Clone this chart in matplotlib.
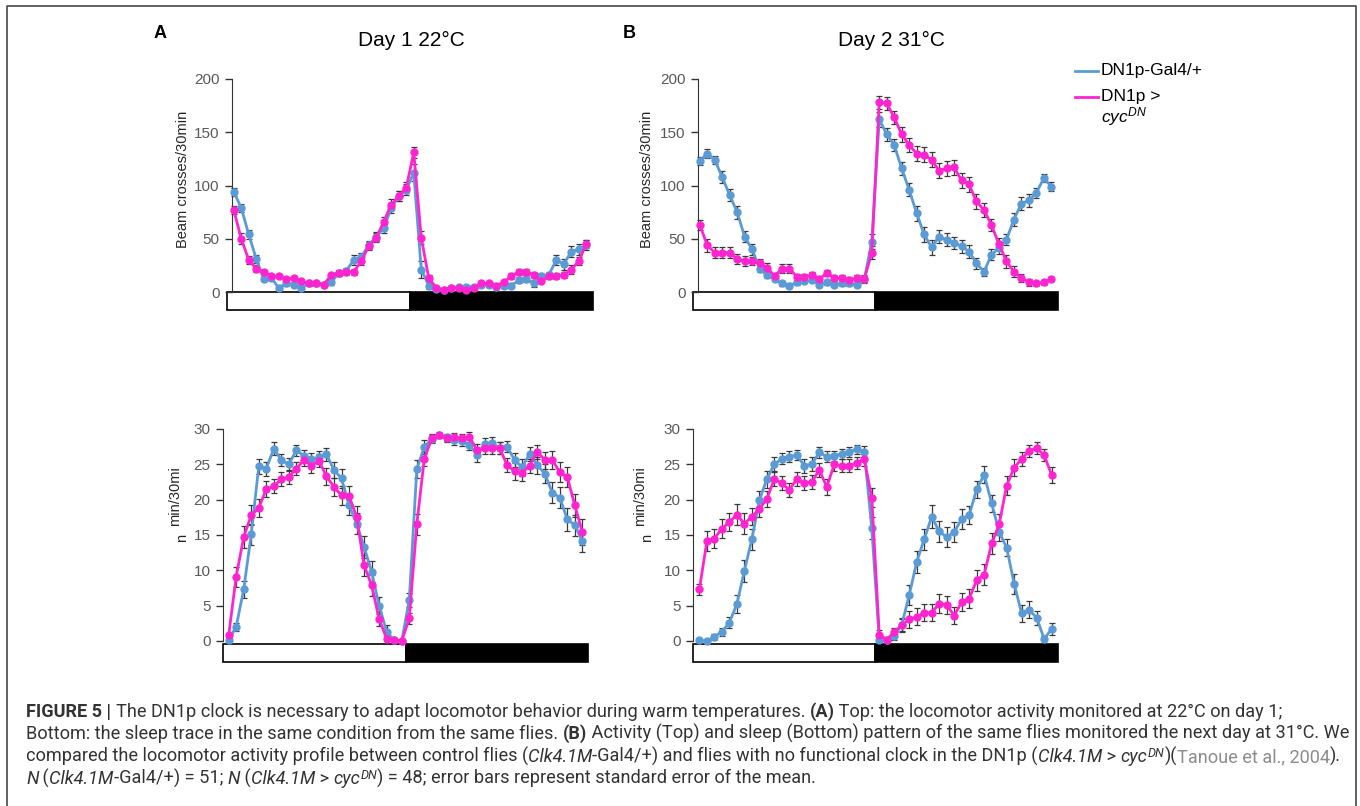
import numpy as np
import matplotlib
matplotlib.use("Agg")
import matplotlib.pyplot as plt
from matplotlib.patches import Rectangle
from matplotlib.lines import Line2D
from matplotlib.font_manager import FontProperties

plt.rcParams['font.family'] = ['Liberation Sans', 'DejaVu Sans']
plt.rcParams['mathtext.fontset'] = 'custom'
plt.rcParams['mathtext.rm'] = 'Liberation Sans'
plt.rcParams['mathtext.it'] = 'Liberation Sans:italic'
plt.rcParams['mathtext.bf'] = 'Liberation Sans:bold'

# 30 min bins over 24 h (12 h light, 12 h dark)
bins = np.arange(48)

# Day 1, 22C - activity (beam crosses / 30 min)
day1_act_ctrl = [94, 79, 54, 31, 12, 13, 4, 8, 7, 4, 8, 8, 7, 9, 18, 20, 30, 33, 44, 52,
                 60, 79, 90, 96, 112, 21, 6, 3, 2, 4, 5, 5, 5, 7, 7, 5, 6, 6, 11, 12,
                 8, 15, 16, 30, 26, 38, 40, 44]
day1_act_ctrl_err = [4, 4, 4, 4, 2, 2, 1, 2, 2, 1, 2, 2, 2, 2, 3, 3, 5, 4, 4, 4,
                     5, 5, 5, 5, 8, 8, 3, 2, 1, 1, 1, 2, 2, 2, 2, 2, 2, 2, 3, 3,
                     3, 3, 3, 5, 5, 5, 5, 5]
day1_act_cyc = [77, 50, 30, 22, 19, 15, 15, 12, 13, 10, 8, 8, 7, 16, 18, 19, 19, 29, 43, 51,
                66, 82, 90, 98, 131, 51, 13, 4, 2, 4, 4, 2, 4, 8, 8, 6, 9, 15, 19, 19,
                16, 10, 15, 15, 16, 21, 29, 45]
day1_act_cyc_err = [4, 5, 4, 3, 2, 2, 2, 2, 2, 2, 1, 1, 1, 2, 3, 3, 3, 4, 4, 4,
                    4, 5, 5, 5, 5, 6, 3, 2, 1, 1, 1, 1, 1, 2, 2, 2, 2, 3, 3, 3,
                    3, 2, 3, 3, 3, 4, 4, 4]

# Day 2, 31C - activity
day2_act_ctrl = [123, 130, 124, 108, 91, 75, 52, 40, 22, 16, 12, 8, 6, 9, 10, 11, 7, 9, 7, 8,
                 8, 7, 12, 47, 162, 148, 138, 116, 96, 74, 54, 42, 52, 49, 46, 43, 38, 27, 19, 35,
                 41, 49, 68, 83, 86, 93, 107, 99]
day2_act_ctrl_err = [4, 4, 4, 6, 6, 6, 5, 5, 3, 3, 2, 2, 2, 2, 2, 2, 2, 2, 2, 2,
                     2, 2, 3, 7, 7, 6, 6, 6, 6, 7, 7, 7, 6, 6, 6, 6, 6, 5, 4, 5,
                     5, 5, 6, 6, 6, 5, 4, 4]
day2_act_cyc = [63, 44, 37, 37, 37, 31, 29, 29, 27, 23, 15, 22, 22, 14, 14, 16, 12, 18, 13, 13,
                11, 13, 12, 37, 178, 177, 164, 148, 138, 130, 129, 124, 114, 116, 117, 105, 101, 85, 77, 63,
                45, 29, 19, 13, 9, 8, 9, 12]
day2_act_cyc_err = [5, 6, 5, 5, 5, 5, 5, 4, 4, 4, 3, 4, 4, 3, 3, 3, 3, 3, 3, 3,
                    3, 3, 4, 6, 6, 6, 6, 7, 7, 7, 7, 7, 7, 7, 7, 7, 7, 7, 7, 6,
                    6, 6, 5, 4, 3, 2, 2, 2]

# Day 1, 22C - sleep (min / 30 min)
day1_sleep_ctrl = [0.2, 2.0, 7.3, 15.1, 24.7, 24.4, 27.2, 25.6, 25.0, 27.0, 26.2, 25.7, 26.0, 26.4,
                   24.2, 23.0, 19.2, 16.6, 13.3, 9.8, 5.0, 1.3, 0.1, 0.0,
                   5.8, 24.3, 27.5, 28.6, 29.1, 28.8, 28.4, 28.3, 27.8, 26.3, 27.9, 28.0, 27.3, 27.5,
                   25.6, 24.6, 26.5, 24.9, 23.7, 21.0, 20.3, 17.2, 16.4, 14.1]
day1_sleep_ctrl_err = [0.3, 0.6, 1.2, 1.5, 1.0, 1.0, 0.9, 0.9, 0.9, 0.8, 0.8, 0.9, 0.9, 0.9,
                       1.2, 1.3, 1.4, 1.5, 1.5, 1.5, 1.2, 0.9, 0.3, 0.1, 1.0, 1.3, 1.0, 0.6,
                       0.4, 0.5, 0.6, 0.7, 0.8, 1.0, 0.8, 0.8, 0.9, 0.8, 1.0, 1.2, 1.0, 1.2,
                       1.4, 1.5, 1.5, 1.6, 1.5, 1.5]
day1_sleep_cyc = [0.8, 9.1, 14.7, 17.8, 18.8, 21.5, 21.9, 22.9, 23.2, 24.4, 25.6, 24.8, 25.5,
                  23.3, 21.8, 20.6, 20.5, 17.6, 10.7, 7.9, 3.1, 0.3, 0.1, 0.0,
                  3.2, 16.5, 25.8, 28.7, 29.1, 28.7, 28.8, 28.7, 28.9, 27.0, 27.3, 27.3, 27.3, 24.9,
                  24.0, 23.8, 24.8, 26.8, 25.6, 25.6, 23.9, 23.2, 19.2, 15.4]
day1_sleep_cyc_err = [0.4, 1.4, 1.6, 1.4, 1.3, 1.1, 1.0, 1.0, 1.0, 0.9, 0.9, 1.0, 0.9, 1.2,
                      1.3, 1.3, 1.4, 1.5, 1.5, 1.5, 1.0, 0.5, 0.2, 0.1, 0.8, 1.5, 1.0, 0.6,
                      0.4, 0.5, 0.6, 0.6, 0.7, 0.9, 0.8, 0.8, 0.9, 1.0, 1.2, 1.2, 1.0, 1.0,
                      1.2, 1.3, 1.4, 1.4, 1.6, 1.8]

# Day 2, 31C - sleep
day2_sleep_ctrl = [0.1, 0.0, 0.6, 1.3, 2.6, 5.2, 9.9, 14.4, 19.9, 22.9, 25.0, 25.8, 26.1, 26.3,
                   24.8, 25.0, 26.7, 26.1, 26.2, 26.5, 26.8, 27.1, 26.8, 16.0,
                   0.2, 0.1, 0.7, 2.3, 6.5, 11.2, 14.4, 17.6, 15.5, 14.7, 15.4, 17.3, 17.8, 21.5,
                   23.5, 19.5, 15.4, 13.2, 8.1, 3.9, 4.4, 3.3, 0.3, 1.7]
day2_sleep_ctrl_err = [0.2, 0.1, 0.4, 0.6, 0.8, 1.3, 1.5, 1.5, 1.3, 1.2, 1.0, 0.8, 0.8, 0.7,
                       1.0, 1.0, 0.8, 0.8, 0.7, 0.7, 0.7, 0.6, 0.8, 1.5, 0.3, 0.2, 0.5, 0.9,
                       1.4, 1.6, 1.5, 1.6, 1.5, 1.4, 1.4, 1.4, 1.3, 1.2, 1.2, 1.2, 1.3, 1.2,
                       1.4, 1.2, 1.2, 1.0, 0.4, 0.8]
day2_sleep_cyc = [7.3, 14.1, 14.5, 15.9, 16.8, 17.9, 16.6, 17.6, 18.7, 20.1, 22.9, 22.3, 21.4, 22.9,
                  22.3, 22.5, 24.2, 21.8, 25.0, 24.8, 24.8, 25.2, 25.7, 20.3,
                  0.9, 0.2, 1.3, 2.2, 3.1, 3.4, 4.0, 4.0, 5.3, 5.1, 3.6, 5.5, 6.0, 8.6,
                  9.4, 13.8, 16.5, 22.0, 24.5, 25.8, 26.9, 27.3, 26.3, 23.5]
day2_sleep_cyc_err = [0.8, 1.4, 1.3, 1.3, 1.3, 1.5, 1.5, 1.2, 1.2, 1.1, 1.0, 1.0, 1.0, 1.0,
                      1.0, 1.0, 1.0, 1.1, 0.9, 0.9, 0.9, 0.9, 0.9, 1.4, 0.6, 0.3, 0.6, 0.9,
                      1.2, 1.2, 1.2, 1.2, 1.3, 1.3, 1.2, 1.3, 1.4, 1.5, 1.5, 1.5, 1.5, 1.4,
                      1.2, 1.0, 0.9, 0.9, 0.8, 1.1]

act_ticks = [0, 50, 100, 150, 200]
sleep_ticks = [0, 5, 10, 15, 20, 25, 30]

BLUE = '#5B9BD5'
PINK = '#FF24D0'
ERR = '#3a3a3a'
TICKC = '#595959'

W, H = 1360, 806
fig = plt.figure(figsize=(W / 100, H / 100), dpi=100)


def fx(px):
    return px / W


def fy(py):
    return 1 - py / H


def panel(left, right, top, bottom, xlim, spine_x, yticks, bar_gap,
          ctrl, ctrl_err, cyc, cyc_err):
    ax = fig.add_axes([fx(left), fy(bottom), (right - left) / W, (bottom - top) / H])
    ax.set_xlim(*xlim)
    ax.set_ylim(yticks[0], yticks[-1])
    ax.set_yticks(yticks)
    ax.set_xticks([])
    for s in ['top', 'right', 'bottom']:
        ax.spines[s].set_visible(False)
    ax.spines['left'].set_position(('data', spine_x))
    ax.spines['left'].set_color('#333333')
    ax.tick_params(axis='y', direction='out', length=5, width=1, pad=4,
                   labelsize=11, labelcolor=TICKC, color='#333333')
    ax.patch.set_alpha(0)

    # light/dark bar below the axis
    axh = bottom - top
    mid = 23.5
    y0 = -(bar_gap + 18) / axh
    tr = ax.get_xaxis_transform()
    ax.add_patch(Rectangle((xlim[0], y0), mid - xlim[0], 18 / axh, transform=tr,
                           facecolor='white', edgecolor='black', lw=1.2, clip_on=False))
    ax.add_patch(Rectangle((mid, y0), xlim[1] - mid, 18 / axh, transform=tr,
                           facecolor='black', edgecolor='black', lw=1.2, clip_on=False))

    for y, e, c in [(ctrl, ctrl_err, BLUE), (cyc, cyc_err, PINK)]:
        ax.errorbar(bins, y, yerr=e, fmt='none', ecolor=ERR, elinewidth=0.9,
                    capsize=2.2, capthick=0.9, zorder=2)
        ax.plot(bins, y, '-o', color=c, lw=2.0, ms=5, clip_on=False, zorder=3)
    return ax


panel(227, 593, 79, 292, (-0.9, 47.9), -0.23, act_ticks, 0,
      day1_act_ctrl, day1_act_ctrl_err, day1_act_cyc, day1_act_cyc_err)
panel(693, 1058, 79, 292, (-0.9, 47.9), -0.23, act_ticks, 0,
      day2_act_ctrl, day2_act_ctrl_err, day2_act_cyc, day2_act_cyc_err)
panel(223, 588, 429, 641, (-0.75, 47.75), -0.75, sleep_ticks, 3,
      day1_sleep_ctrl, day1_sleep_ctrl_err, day1_sleep_cyc, day1_sleep_cyc_err)
panel(693, 1058, 429, 641, (-0.85, 47.85), -0.85, sleep_ticks, 3,
      day2_sleep_ctrl, day2_sleep_ctrl_err, day2_sleep_cyc, day2_sleep_cyc_err)

# axis labels, titles, panel letters
lab = dict(rotation=90, ha='center', va='center', fontsize=10.5, color='#262626')
fig.text(fx(183), fy(179), 'Beam crosses/30min', **lab)
fig.text(fx(647), fy(179), 'Beam crosses/30min', **lab)
fig.text(fx(175), fy(496), 'min/30mi', **lab)
fig.text(fx(182), fy(538), 'n', **lab)
fig.text(fx(640), fy(496), 'min/30mi', **lab)
fig.text(fx(647), fy(538), 'n', **lab)

fig.text(fx(411), fy(40), 'Day 1 22°C', ha='center', va='center', fontsize=15)
fig.text(fx(891), fy(40), 'Day 2 31°C', ha='center', va='center', fontsize=15)
fig.text(fx(160), fy(34), 'A', ha='center', va='center', fontsize=13, weight='bold')
fig.text(fx(629), fy(34), 'B', ha='center', va='center', fontsize=13, weight='bold')

# legend
fig.add_artist(Line2D([fx(1075), fx(1098)], [fy(71), fy(71)], color=BLUE, lw=2,
                      transform=fig.transFigure))
fig.add_artist(Line2D([fx(1075), fx(1098)], [fy(97), fy(97)], color=PINK, lw=2,
                      transform=fig.transFigure))
fig.text(fx(1101), fy(71), 'DN1p-Gal4/+', va='center', fontsize=12.5)
fig.text(fx(1101), fy(97), 'DN1p >', va='center', fontsize=12.5)
fig.text(fx(1101), fy(117), r'$\mathit{cyc}^{\mathit{DN}}$', va='center', fontsize=12.5)

# frame around the figure
fig.add_artist(Line2D([fx(7), fx(7), fx(1356), fx(1356)], [fy(830), fy(6), fy(6), fy(830)],
                      color='#555555', lw=1.3, transform=fig.transFigure))

# caption, drawn run by run
renderer = fig.canvas.get_renderer()
CAP = '#333333'
GREY = '#8c8c8c'


def fprop(size, style):
    return FontProperties(family=['Roboto', 'DejaVu Sans'], size=size,
                          weight='bold' if 'b' in style else 'normal',
                          style='italic' if 'i' in style else 'normal')


def run_width(text, fp):
    w1 = renderer.get_text_width_height_descent(text + '|', fp, ismath=False)[0]
    w2 = renderer.get_text_width_height_descent('|', fp, ismath=False)[0]
    return w1 - w2


def line_width(runs, size):
    total = 0
    for text, style in runs:
        s = size * 0.7 if 's' in style else size
        total += run_width(text, fprop(s, style))
    return total


def draw_line(x, y, runs, size):
    for text, style in runs:
        s = size * 0.7 if 's' in style else size
        fp = fprop(s, style)
        dy = -0.42 * size if 's' in style else 0
        color = GREY if 'g' in style else CAP
        fig.text(fx(x), fy(y + dy), text, fontproperties=fp, color=color, va='baseline')
        x += run_width(text, fp)


cap_lines = [
    [('FIGURE 5 | ', 'b'),
     ('The DN1p clock is necessary to adapt locomotor behavior during warm temperatures. ', ''),
     ('(A)', 'b'), (' Top: the locomotor activity monitored at 22°C on day 1;', '')],
    [('Bottom: the sleep trace in the same condition from the same flies. ', ''),
     ('(B)', 'b'),
     (' Activity (Top) and sleep (Bottom) pattern of the same flies monitored the next day at 31°C. We', '')],
    [('compared the locomotor activity profile between control flies (', ''), ('Clk4.1M', 'i'),
     ('-Gal4/+) and flies with no functional clock in the DN1p (', ''), ('Clk4.1M', 'i'),
     (' > ', ''), ('cyc', 'i'), ('DN', 'is'), (')(', ''), ('Tanoue et al., 2004', 'g'), (').', '')],
    [('N', 'i'), (' (', ''), ('Clk4.1M', 'i'), ('-Gal4/+) = 51; ', ''), ('N', 'i'), (' (', ''),
     ('Clk4.1M', 'i'), (' > ', ''), ('cyc', 'i'), ('DN', 'is'),
     (') = 48; error bars represent standard error of the mean.', '')],
]
cap_size = 10 * 1321 / line_width(cap_lines[1], 10)
for runs, yb in zip(cap_lines, [717, 739, 762, 784]):
    draw_line(26, yb, runs, cap_size)

fig.savefig('out.png', dpi=100)
